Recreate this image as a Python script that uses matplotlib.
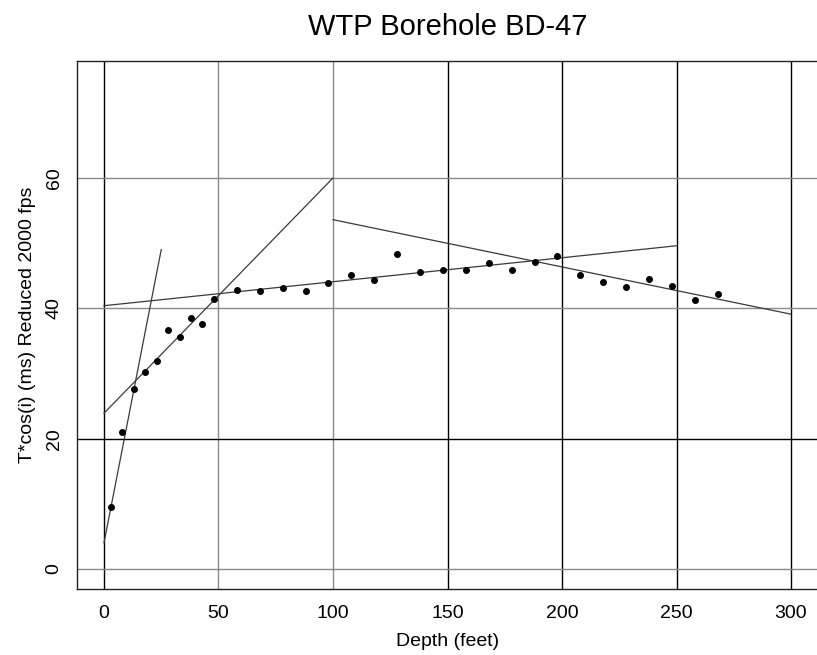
import matplotlib
matplotlib.use("Agg")
import matplotlib.pyplot as plt
import numpy as np

plt.rcParams['font.family'] = ['Liberation Sans', 'DejaVu Sans']

# Observed data points
depth = [3, 8, 13, 18, 23, 28, 33, 38, 43, 48,
         58, 68, 78, 88, 98, 108, 118, 128, 138, 148,
         158, 168, 178, 188, 198, 208, 218, 228, 238, 248,
         258, 268]
tcos = [9.5, 21.0, 27.6, 30.2, 31.9, 36.7, 35.6, 38.5, 37.6, 41.4,
        42.8, 42.7, 43.1, 42.7, 43.9, 45.1, 44.3, 48.3, 45.6, 45.9,
        45.9, 46.9, 45.9, 47.1, 48.0, 45.1, 44.0, 43.3, 44.5, 43.4,
        41.3, 42.2]

# Fitted segments: (x start, x end, y start, y end)
seg_x0 = [0, 0, 0, 100]
seg_x1 = [25, 100, 250, 300]
seg_y0 = [4.0, 23.9, 40.4, 53.6]
seg_y1 = [49.0, 60.0, 49.6, 39.1]

xticks = [0, 50, 100, 150, 200, 250, 300]
yticks = [0, 20, 40, 60]
dark_x = [0, 150, 200, 250, 300]
dark_y = [20]

title = "WTP Borehole BD-47"
xlabel = "Depth (feet)"
ylabel = "T*cos(i) (ms) Reduced 2000 fps"

W, H = 817, 655
fig = plt.figure(figsize=(W / 100, H / 100), dpi=100)
left_px, right_px = 76.5, 818.5
top_px, bot_px = 60.7, 588.5
ax = fig.add_axes([left_px / W, 1 - bot_px / H,
                   (right_px - left_px) / W, (bot_px - top_px) / H])
ax.set_xlim(-12, 312)
ax.set_ylim(-3, 78)

for xv in xticks:
    ax.axvline(xv, color='black' if xv in dark_x else '#8a8a8a',
               lw=1.0, zorder=1)
for yv in yticks:
    ax.axhline(yv, color='black' if yv in dark_y else '#8a8a8a',
               lw=1.0, zorder=1)

for x0, x1, y0, y1 in zip(seg_x0, seg_x1, seg_y0, seg_y1):
    ax.plot([x0, x1], [y0, y1], color='#3a3a3a', lw=0.9, zorder=2)

ax.plot(depth, tcos, 'o', color='black', ms=4, zorder=3)

ax.set_xticks(xticks)
ax.set_yticks(yticks)
ax.tick_params(axis='both', length=0, labelsize=14)
ax.tick_params(axis='x', pad=12)
ax.tick_params(axis='y', pad=10)
for lab in ax.get_yticklabels():
    lab.set_rotation(90)
    lab.set_va('center')

for sp in ax.spines.values():
    sp.set_color('#222222')
    sp.set_linewidth(1.0)

ax.set_xlabel(xlabel, fontsize=14, labelpad=8)
ax.set_ylabel(ylabel, fontsize=14, labelpad=7)
fig.text((left_px + right_px) / 2 / W, 1 - 27 / H, title,
         ha='center', va='center', fontsize=21)

fig.savefig("out.png", dpi=100)
